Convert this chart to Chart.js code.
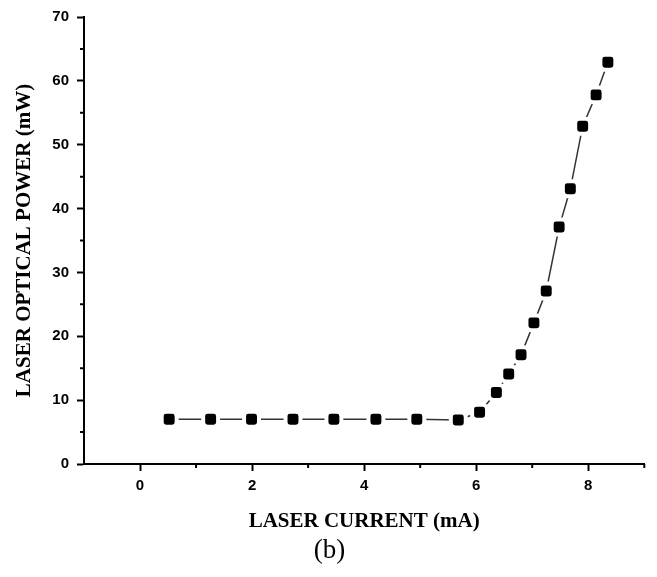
<!DOCTYPE html>
<html>
<head>
<meta charset="utf-8">
<script src="https://cdn.jsdelivr.net/npm/chart.js@4"></script>
<style>
  body { margin: 0; background: #fff; }
  canvas { display: block; }
</style>
</head>
<body>
<canvas id="laserChart" width="657" height="577"></canvas>
<script>
// Data.
const currentMA = [0.52, 1.26, 1.99, 2.73, 3.46, 4.21, 4.94, 5.68, 6.06, 6.36, 6.58, 6.80, 7.03, 7.25, 7.48, 7.68, 7.90, 8.14, 8.35];
const powerMW = [7, 7, 7, 7, 7, 7, 7, 6.9, 8.1, 11.2, 14.1, 17.1, 22.1, 27.1, 37.1, 43.1, 52.9, 57.8, 62.9];
// Tick marks: labelled (major) and unlabelled (minor).
const xMajorTicks = [0, 2, 4, 6, 8];
const xMinorTicks = [1, 3, 5, 7, 9];
const yMajorTicks = [0, 10, 20, 30, 40, 50, 60, 70];
const yMinorTicks = [5, 15, 25, 35, 45, 55, 65];

const tickFont = { family: 'Liberation Sans, Arial, sans-serif', size: 15, weight: 'bold' };
const titleFont = { family: 'Liberation Serif, Times New Roman, serif', size: 21, weight: 'bold' };

// Draws the short unlabelled ticks between the labelled ones.
const minorTicks = {
    id: 'minorTicks',
    afterDraw(chart) {
        const ctx = chart.ctx;
        const xs = chart.scales.x, ys = chart.scales.y;
        ctx.save();
        ctx.strokeStyle = '#000';
        ctx.lineWidth = 2;
        ctx.beginPath();
        xMinorTicks.forEach(v => {
            const px = xs.getPixelForValue(v);
            ctx.moveTo(px, xs.top);
            ctx.lineTo(px, xs.top + 4);
        });
        yMinorTicks.forEach(v => {
            const py = ys.getPixelForValue(v);
            ctx.moveTo(ys.right, py);
            ctx.lineTo(ys.right - 4, py);
        });
        ctx.stroke();
        ctx.restore();
    }
};

const ctx = document.getElementById('laserChart').getContext('2d');
new Chart(ctx, {
    type: 'line',
    data: {
        datasets: [{
            data: currentMA.map((x, i) => ({ x: x, y: powerMW[i] })),
            borderColor: '#333',
            borderWidth: 1.5,
            tension: 0,
            pointStyle: 'rectRounded',
            pointRadius: 8.7,
            pointBackgroundColor: '#000',
            pointBorderColor: '#fff',
            pointBorderWidth: 4,
            clip: false
        }]
    },
    options: {
        responsive: false,
        animation: false,
        layout: { padding: { left: 12, right: 10, top: 17, bottom: 10 } },
        plugins: {
            legend: { display: false },
            tooltip: { enabled: false },
            title: {
                display: true,
                position: 'bottom',
                text: '(b)',
                color: '#000',
                padding: 0,
                font: { family: 'Liberation Serif, Times New Roman, serif', size: 27, weight: 'normal' }
            }
        },
        scales: {
            x: {
                type: 'linear',
                min: -1,
                max: 9,
                afterBuildTicks: scale => { scale.ticks = xMajorTicks.map(v => ({ value: v })); },
                afterFit: scale => { scale.height = 70.6; },
                grid: { display: true, drawOnChartArea: false, drawTicks: true, tickLength: 7, tickWidth: 2, tickColor: '#000' },
                border: { display: true, color: '#000', width: 2 },
                ticks: { color: '#000', font: tickFont, padding: 6, maxRotation: 0 },
                title: { display: true, text: 'LASER CURRENT (mA)', color: '#000', font: titleFont, padding: 0 }
            },
            y: {
                type: 'linear',
                min: 0,
                max: 70,
                afterBuildTicks: scale => { scale.ticks = yMajorTicks.map(v => ({ value: v })); },
                afterFit: scale => { scale.width = 72; },
                grid: { display: true, drawOnChartArea: false, drawTicks: true, tickLength: 7, tickWidth: 2, tickColor: '#000' },
                border: { display: true, color: '#000', width: 2 },
                ticks: { color: '#000', font: tickFont, padding: 8 },
                title: { display: true, text: 'LASER OPTICAL POWER (mW)', color: '#000', font: titleFont, padding: 0 }
            }
        }
    },
    plugins: [minorTicks]
});
</script>
</body>
</html>
